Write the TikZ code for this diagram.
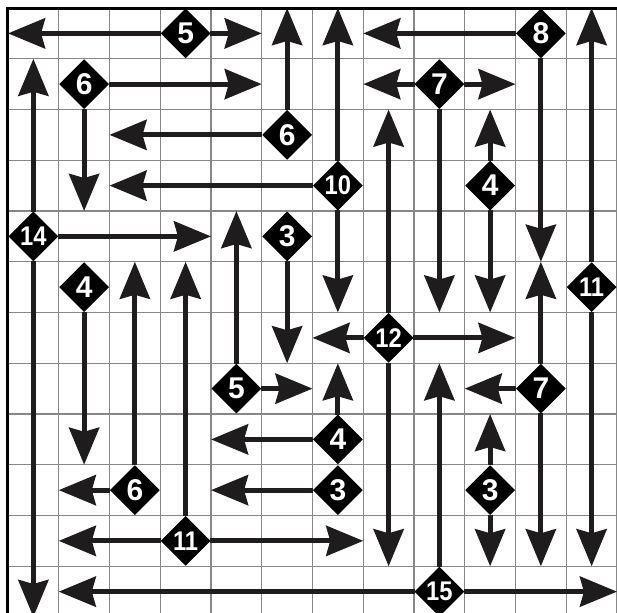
\documentclass[tikz,border=0pt]{standalone}
\usepackage{fontspec}
\setmainfont{Liberation Sans}
\newfontfamily\narrowfont[FakeStretch=0.88]{Liberation Sans}
\usetikzlibrary{shapes.geometric,arrows.meta}
\definecolor{gridc}{RGB}{135,135,135}
\definecolor{ink}{RGB}{30,28,29}
\tikzset{
  gridline/.style={draw=gridc, line width=0.7pt},
  border/.style={draw=black, line width=1.5pt},
  arr/.style={draw=ink, line width=2.6pt, -{Stealth[length=18.5pt,width=15pt,inset=2pt]}},
  num/.style={shape=diamond, fill=black, text=white, inner sep=0pt, outer sep=0pt,
    minimum size=24.8pt, font=\bfseries\fontsize{15}{15}\selectfont},
  numw/.style={num, font=\narrowfont\bfseries\fontsize{13.5}{13.5}\selectfont}
}
\begin{document}
\begin{tikzpicture}[x=25.375pt,y=-25.375pt]
\fill[white] (-0.15764,-0.15764) rectangle (12,11.9015);
\useasboundingbox (-0.15764,-0.15764) rectangle (12,11.9015);
\begin{scope}
\clip (-0.15764,-0.15764) rectangle (12,11.9015);
\draw[gridline,step=25.375pt] (0,0) grid (12,12);
\end{scope}
\draw[border] (0,11.95) -- (0,0) -- (12,0);

% diamonds
\node[num]  (d5a)  at (3.5,0.5)  {5};
\node[num]  (d6a)  at (1.5,1.5)  {6};
\node[num]  (d6b)  at (5.5,2.5)  {6};
\node[numw] (d10)  at (6.5,3.5)  {10};
\node[numw] (d14)  at (0.5,4.5)  {14};
\node[num]  (d3a)  at (5.5,4.5)  {3};
\node[num]  (d5b)  at (4.5,7.5)  {5};
\node[num]  (d4a)  at (1.5,5.5)  {4};
\node[num]  (d6c)  at (2.5,9.5)  {6};
\node[numw] (d11a) at (3.5,10.5) {11};
\node[num]  (d4b)  at (6.5,8.5)  {4};
\node[num]  (d3b)  at (6.5,9.5)  {3};
\node[numw] (d12)  at (7.5,6.5)  {12};
\node[num]  (d7a)  at (8.5,1.5)  {7};
\node[num]  (d8)   at (10.5,0.5) {8};
\node[num]  (d4c)  at (9.5,3.5)  {4};
\node[numw] (d11b) at (11.5,5.5) {11};
\node[num]  (d7b)  at (10.5,7.5) {7};
\node[num]  (d3c)  at (9.5,9.5)  {3};
\node[numw] (d15)  at (8.5,11.5) {15};

% arrow ends
\coordinate (e5aL) at (0,0.5);   \coordinate (e5aR) at (5,0.5);
\coordinate (e6aR) at (5,1.5);   \coordinate (e6aD) at (1.5,4);
\coordinate (e6bU) at (5.5,0);   \coordinate (e6bL) at (2,2.5);
\coordinate (e10L) at (2,3.5);   \coordinate (e10U) at (6.5,0);  \coordinate (e10D) at (6.5,6);
\coordinate (e14U) at (0.5,1);   \coordinate (e14R) at (4,4.5);  \coordinate (e14D) at (0.5,12);
\coordinate (e3aD) at (5.5,7);
\coordinate (e5bU) at (4.5,4);   \coordinate (e5bR) at (6,7.5);
\coordinate (e4aD) at (1.5,9);
\coordinate (e6cU) at (2.5,5);   \coordinate (e6cL) at (1,9.5);
\coordinate (e11aU) at (3.5,5);  \coordinate (e11aL) at (1,10.5); \coordinate (e11aR) at (7,10.5);
\coordinate (e4bU) at (6.5,7);   \coordinate (e4bL) at (4,8.5);
\coordinate (e3bL) at (4,9.5);
\coordinate (e12L) at (6,6.5);   \coordinate (e12R) at (10,6.5); \coordinate (e12D) at (7.5,11); \coordinate (e12U) at (7.5,2);
\coordinate (e7aL) at (7,1.5);   \coordinate (e7aR) at (10,1.5); \coordinate (e7aD) at (8.5,6);
\coordinate (e8L) at (7,0.5);    \coordinate (e8D) at (10.5,5);
\coordinate (e4cU) at (9.5,2);   \coordinate (e4cD) at (9.5,6);
\coordinate (e11bU) at (11.5,0); \coordinate (e11bD) at (11.5,11);
\coordinate (e7bU) at (10.5,5);  \coordinate (e7bL) at (9,7.5);  \coordinate (e7bD) at (10.5,11);
\coordinate (e3cU) at (9.5,8);   \coordinate (e3cD) at (9.5,11);
\coordinate (e15U) at (8.5,7);   \coordinate (e15L) at (1,11.5); \coordinate (e15R) at (12,11.5);

% arrows
\draw[arr] (d5a) -- (e5aL);  \draw[arr] (d5a) -- (e5aR);
\draw[arr] (d6a) -- (e6aR);  \draw[arr] (d6a) -- (e6aD);
\draw[arr] (d6b) -- (e6bU);  \draw[arr] (d6b) -- (e6bL);
\draw[arr] (d10) -- (e10L);  \draw[arr] (d10) -- (e10U);  \draw[arr] (d10) -- (e10D);
\draw[arr] (d14) -- (e14U);  \draw[arr] (d14) -- (e14R);  \draw[arr] (d14) -- (e14D);
\draw[arr] (d3a) -- (e3aD);
\draw[arr] (d5b) -- (e5bU);  \draw[arr] (d5b) -- (e5bR);
\draw[arr] (d4a) -- (e4aD);
\draw[arr] (d6c) -- (e6cU);  \draw[arr] (d6c) -- (e6cL);
\draw[arr] (d11a) -- (e11aU); \draw[arr] (d11a) -- (e11aL); \draw[arr] (d11a) -- (e11aR);
\draw[arr] (d4b) -- (e4bU);  \draw[arr] (d4b) -- (e4bL);
\draw[arr] (d3b) -- (e3bL);
\draw[arr] (d12) -- (e12L);  \draw[arr] (d12) -- (e12R);  \draw[arr] (d12) -- (e12D);  \draw[arr] (d12) -- (e12U);
\draw[arr] (d7a) -- (e7aL);  \draw[arr] (d7a) -- (e7aR);  \draw[arr] (d7a) -- (e7aD);
\draw[arr] (d8) -- (e8L);    \draw[arr] (d8) -- (e8D);
\draw[arr] (d4c) -- (e4cU);  \draw[arr] (d4c) -- (e4cD);
\draw[arr] (d11b) -- (e11bU); \draw[arr] (d11b) -- (e11bD);
\draw[arr] (d7b) -- (e7bU);  \draw[arr] (d7b) -- (e7bL);  \draw[arr] (d7b) -- (e7bD);
\draw[arr] (d3c) -- (e3cU);  \draw[arr] (d3c) -- (e3cD);
\draw[arr] (d15) -- (e15U);  \draw[arr] (d15) -- (e15L);  \draw[arr] (d15) -- (e15R);
\end{tikzpicture}
\end{document}
